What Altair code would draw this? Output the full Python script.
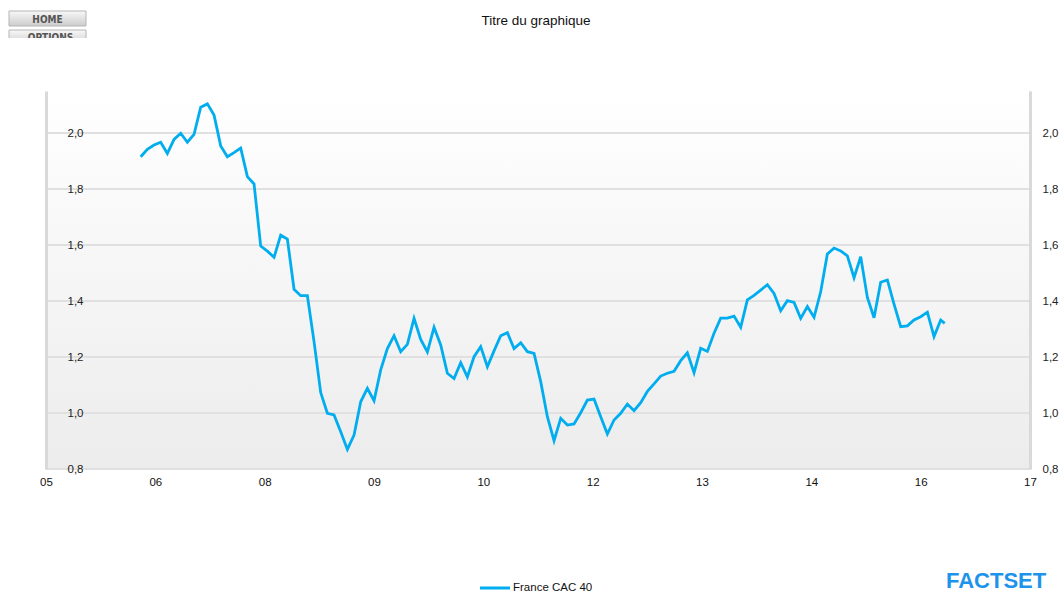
import altair as alt
import pandas as pd

TITLE = "Titre du graphique"
SERIES = "France CAC 40"
LOGO = "FACTSET"
BUTTONS = ["HOME", "OPTIONS"]

# values (roughly monthly samples)
CAC40 = [
    1.915, 1.942, 1.957, 1.967, 1.927, 1.977, 1.999, 1.967, 1.995, 2.092,
    2.104, 2.064, 1.954, 1.915, 1.930, 1.946, 1.844, 1.818, 1.596, 1.578,
    1.556, 1.635, 1.621, 1.442, 1.419, 1.419, 1.255, 1.073, 0.999, 0.993,
    0.933, 0.870, 0.921, 1.040, 1.088, 1.044, 1.154, 1.230, 1.276, 1.219,
    1.245, 1.338, 1.263, 1.218, 1.306, 1.243, 1.142, 1.123, 1.180, 1.129,
    1.201, 1.237, 1.165, 1.222, 1.276, 1.287, 1.230, 1.251, 1.219, 1.213,
    1.112, 0.987, 0.901, 0.981, 0.957, 0.961, 1.001, 1.046, 1.050, 0.987,
    0.925, 0.975, 0.999, 1.032, 1.008, 1.037, 1.077, 1.104, 1.132, 1.142,
    1.149, 1.187, 1.215, 1.144, 1.231, 1.220, 1.285, 1.339, 1.339, 1.346,
    1.306, 1.404, 1.420, 1.439, 1.458, 1.427, 1.365, 1.401, 1.395, 1.338,
    1.380, 1.342, 1.433, 1.568, 1.589, 1.579, 1.561, 1.483, 1.558, 1.413,
    1.340, 1.467, 1.475, 1.389, 1.308, 1.311, 1.332, 1.344, 1.360, 1.273,
    1.332, 1.320,
]
START_YEAR = 2006.155
STEP_YEARS = 0.0813
LAST_STEP_FRACTION = 0.6

X_TICKS = [2005, 2006 + 1 / 3, 2007 + 2 / 3, 2009, 2010 + 1 / 3, 2011 + 2 / 3,
           2013, 2014 + 1 / 3, 2015 + 2 / 3, 2017]
Y_TICKS = [0.8, 1.0, 1.2, 1.4, 1.6, 1.8, 2.0]

years = [START_YEAR + STEP_YEARS * i for i in range(len(CAC40) - 1)]
years.append(years[-1] + STEP_YEARS * LAST_STEP_FRACTION)
df = pd.DataFrame({"year": years, "value": CAC40, "series": SERIES})
grid_df = pd.DataFrame({"y": Y_TICKS})
one = pd.DataFrame({"k": [0]})

W, H = 984, 378
FONT = "Liberation Sans"
LINE_COLOR = "#00adef"
xscale = alt.Scale(domain=[2005, 2017], nice=False, zero=False)
yscale = alt.Scale(domain=[0.8, 2.15], nice=False, zero=False)
comma_label = "replace(format(datum.value, '.1f'), '.', ',')"
year_label = "(round(datum.value) % 100 < 10 ? '0' : '') + (round(datum.value) % 100)"

background = alt.Chart(one).mark_rect(
    fill=alt.Gradient(
        gradient="linear",
        stops=[alt.GradientStop(color="#ffffff", offset=0),
               alt.GradientStop(color="#ececec", offset=1)],
        x1=0, x2=0, y1=0, y2=1,
    )
).encode(x=alt.value(0), x2=alt.value(W), y=alt.value(0), y2=alt.value(H))

grid = alt.Chart(grid_df).mark_rule(color="#e0e0e0", strokeWidth=2).encode(
    y=alt.Y("y:Q", scale=yscale, axis=alt.Axis(
        orient="left", values=Y_TICKS, labelExpr=comma_label, grid=False,
        ticks=False, tickSize=0, domainColor="#d9d9d9", domainWidth=3,
        labelPadding=-37, labelAlign="right", labelFontSize=11.5,
        labelColor="#222222", labelFont=FONT, zindex=1, title=None)),
    x=alt.value(0), x2=alt.value(W),
)

line = alt.Chart(df).mark_line(color=LINE_COLOR, strokeWidth=2.8).encode(
    x=alt.X("year:Q", scale=xscale, axis=alt.Axis(
        values=X_TICKS, labelExpr=year_label, ticks=False, domain=False,
        grid=False, labelPadding=7, labelFontSize=11.5, labelColor="#111111",
        labelFont=FONT, labelFlush=False, labelOverlap=False, title=None)),
    y=alt.Y("value:Q", scale=yscale, axis=alt.Axis(
        orient="right", values=Y_TICKS, labelExpr=comma_label, grid=False,
        ticks=False, tickSize=0, domainColor="#d9d9d9", domainWidth=3,
        labelPadding=12, labelAlign="left", labelFontSize=11.5,
        labelColor="#222222", labelFont=FONT, zindex=1, title=None)),
)

title = alt.Chart(one).mark_text(
    text=TITLE, font=FONT, fontSize=13.5, color="#111111",
    align="center", baseline="middle",
).encode(x=alt.value(490), y=alt.value(-70))

btn_fill = alt.Gradient(
    gradient="linear",
    stops=[alt.GradientStop(color="#f8f8f8", offset=0),
           alt.GradientStop(color="#cccccc", offset=1)],
    x1=0, x2=0, y1=0, y2=1,
)
home_btn = alt.Chart(one).mark_rect(fill=btn_fill, stroke="#b5b5b5", strokeWidth=1).encode(
    x=alt.value(-37), x2=alt.value(40), y=alt.value(-80), y2=alt.value(-65))
opt_btn = alt.Chart(one).mark_rect(fill=btn_fill, stroke="#b5b5b5", strokeWidth=1).encode(
    x=alt.value(-37), x2=alt.value(40), y=alt.value(-61), y2=alt.value(-46))
home_txt = alt.Chart(one).mark_text(
    text=BUTTONS[0], font="DejaVu Sans Condensed", fontWeight="bold", fontSize=10,
    color="#555555", align="center", baseline="alphabetic",
).encode(x=alt.value(1.5), y=alt.value(-68))
opt_txt = alt.Chart(one).mark_text(
    text=BUTTONS[1], font="DejaVu Sans Condensed", fontWeight="bold", fontSize=10,
    color="#555555", align="center", baseline="alphabetic",
).encode(x=alt.value(4.5), y=alt.value(-50))
opt_cover = alt.Chart(one).mark_rect(fill="#ffffff").encode(
    x=alt.value(-40), x2=alt.value(45), y=alt.value(-53), y2=alt.value(-40))

legend_line = alt.Chart(one).mark_rule(color=LINE_COLOR, strokeWidth=3).encode(
    x=alt.value(434), x2=alt.value(464), y=alt.value(497))
legend_txt = alt.Chart(one).mark_text(
    text=SERIES, font=FONT, fontSize=11.5, color="#111111",
    align="left", baseline="middle",
).encode(x=alt.value(467), y=alt.value(497))

logo = alt.Chart(one).mark_text(
    text=LOGO, font=FONT, fontWeight="bold", fontSize=22, color="#1e93ec",
    align="left", baseline="alphabetic",
).encode(x=alt.value(900), y=alt.value(497))

chart = alt.layer(
    background, grid, line, title, home_btn, opt_btn, home_txt, opt_txt,
    opt_cover, legend_line, legend_txt, logo,
).resolve_axis(y="independent").properties(
    width=W, height=H,
    autosize=alt.AutoSizeParams(type="none"),
    padding={"left": 46, "top": 91, "right": 32, "bottom": 123},
).configure_view(stroke=None).configure(background="#ffffff")

chart.save("out.html", embed_options={"renderer": "svg", "actions": False})
